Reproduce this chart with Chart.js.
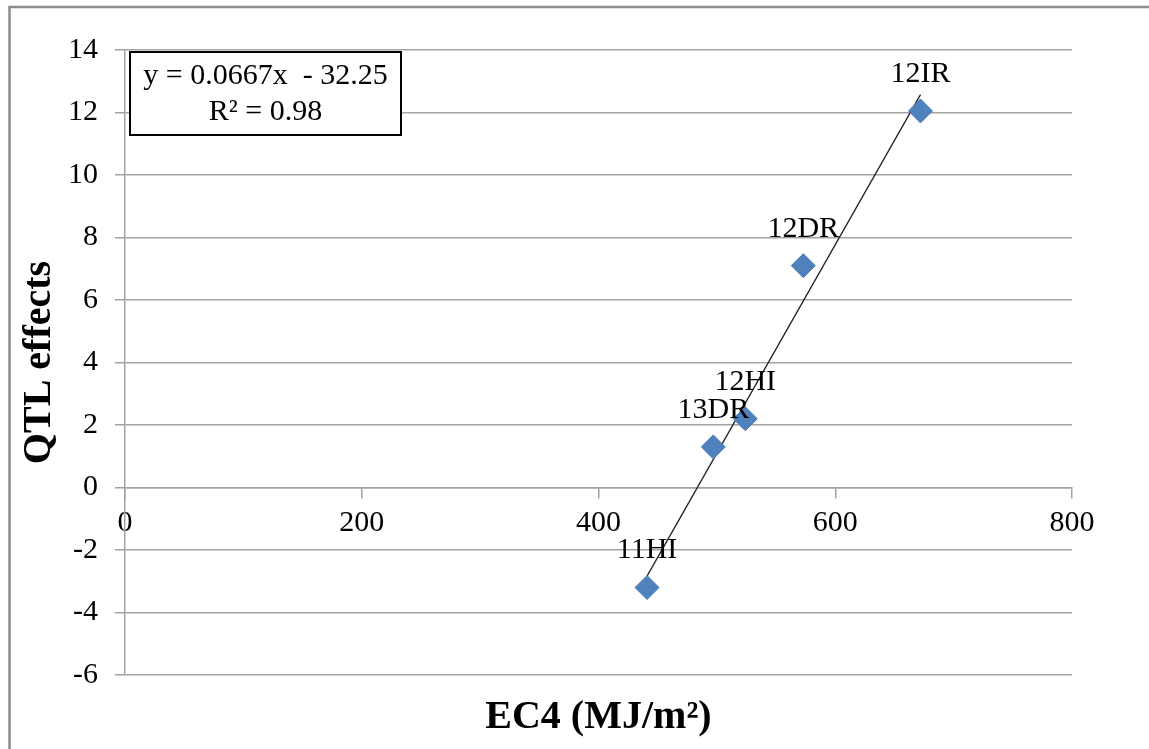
<!DOCTYPE html>
<html>
<head>
<meta charset="utf-8">
<script src="https://cdn.jsdelivr.net/npm/chart.js@4/dist/chart.umd.min.js"></script>
<style>
  html, body { margin: 0; padding: 0; background: #fff; }
  #wrap { width: 1149px; height: 749px; }
</style>
</head>
<body>
<div id="wrap"><canvas id="chart" width="1149" height="749"></canvas></div>
<script>
// data
const siteNames = ["11HI", "13DR", "12HI", "12DR", "12IR"];
const ec4Values = [441, 497, 524, 573, 672];
const qtlValues = [-3.2, 1.3, 2.2, 7.1, 12.05];

// excel trendline
const trendSlope = 0.0667;
const trendIntercept = -32.25;
const rSquared = 0.98;

const xTicks = [0, 200, 400, 600, 800];
const yTicks = [-6, -4, -2, 0, 2, 4, 6, 8, 10, 12, 14];

const SERIF = "'Liberation Serif', 'Times New Roman', serif";
const GRID = "#a3a3a3";

const points = ec4Values.map((x, i) => ({ x, y: qtlValues[i] }));
const xMin = Math.min(...ec4Values);
const xMax = Math.max(...ec4Values);
const trendPoints = [xMin, xMax].map(x => ({ x, y: trendSlope * x + trendIntercept }));

/* outer frame, point names and equation box */
const extras = {
  id: "extras",
  beforeDraw(chart) {
    const ctx = chart.ctx;
    ctx.save();
    ctx.fillStyle = "#fff";
    ctx.fillRect(0, 0, chart.width, chart.height);
    ctx.strokeStyle = "#8c8c8c";
    ctx.lineWidth = 2.5;
    ctx.beginPath();
    ctx.moveTo(9.5, chart.height);
    ctx.lineTo(9.5, 7);
    ctx.lineTo(chart.width, 7);
    ctx.stroke();
    ctx.restore();
  },
  afterDatasetsDraw(chart) {
    const ctx = chart.ctx;
    const meta = chart.getDatasetMeta(0);
    ctx.save();
    ctx.font = "30px " + SERIF;
    ctx.fillStyle = "#000";
    ctx.textAlign = "center";
    ctx.textBaseline = "middle";
    meta.data.forEach((pt, i) => {
      ctx.fillText(siteNames[i], pt.x, pt.y - 37);
    });

    // equation box
    const area = chart.chartArea;
    const bx = area.left + 5, by = area.top + 2, bw = 271, bh = 83;
    ctx.fillStyle = "#fff";
    ctx.fillRect(bx, by, bw, bh);
    ctx.strokeStyle = "#000";
    ctx.lineWidth = 2;
    ctx.strokeRect(bx, by, bw, bh);
    ctx.fillStyle = "#000";
    const sign = trendIntercept < 0 ? "-" : "+";
    ctx.fillText("y = " + trendSlope + "x  " + sign + " " + Math.abs(trendIntercept), bx + bw / 2, by + 24);
    ctx.fillText("R² = " + rSquared, bx + bw / 2, by + 60);
    ctx.restore();
  }
};

new Chart(document.getElementById("chart"), {
  type: "scatter",
  data: {
    datasets: [
      {
        label: "QTL effects",
        data: points,
        pointStyle: "rectRot",
        pointRadius: 12,
        pointHoverRadius: 12,
        backgroundColor: "#4f81bd",
        borderColor: "#4a7ebb",
        borderWidth: 1
      },
      {
        label: "Linear",
        type: "line",
        data: trendPoints,
        borderColor: "#222",
        borderWidth: 1.3,
        pointRadius: 0,
        fill: false
      }
    ]
  },
  options: {
    responsive: false,
    animation: false,
    layout: { padding: { left: 12, top: 50, right: 77, bottom: 0 } },
    plugins: {
      legend: { display: false },
      tooltip: { enabled: false },
      title: {
        display: true,
        text: "EC4 (MJ/m²)",
        position: "bottom",
        fullSize: false,
        color: "#000",
        font: { family: SERIF, size: 40, weight: "bold" },
        padding: { top: 19, bottom: 7 }
      }
    },
    scales: {
      x: {
        type: "linear",
        position: { y: 0 },
        min: 0,
        max: 800,
        afterBuildTicks: axis => { axis.ticks = xTicks.map(v => ({ value: v })); },
        grid: { drawOnChartArea: false, drawTicks: true, tickLength: 10, color: GRID, lineWidth: 1.5 },
        border: { display: true, color: GRID, width: 1.5 },
        ticks: { color: "#000", font: { family: SERIF, size: 30 }, padding: 8, maxRotation: 0 }
      },
      y: {
        type: "linear",
        position: "left",
        min: -6,
        max: 14,
        afterBuildTicks: axis => { axis.ticks = yTicks.map(v => ({ value: v })); },
        afterFit: axis => { axis.width = 113; },
        grid: { color: GRID, lineWidth: 1.5, tickLength: 10 },
        border: { display: true, color: GRID, width: 1.5 },
        ticks: { color: "#000", font: { family: SERIF, size: 30 }, padding: 17 },
        title: {
          display: true,
          text: "QTL effects",
          color: "#000",
          font: { family: SERIF, size: 40, weight: "bold" },
          padding: { top: 4, bottom: 0 }
        }
      }
    }
  },
  plugins: [extras]
});
</script>
</body>
</html>
